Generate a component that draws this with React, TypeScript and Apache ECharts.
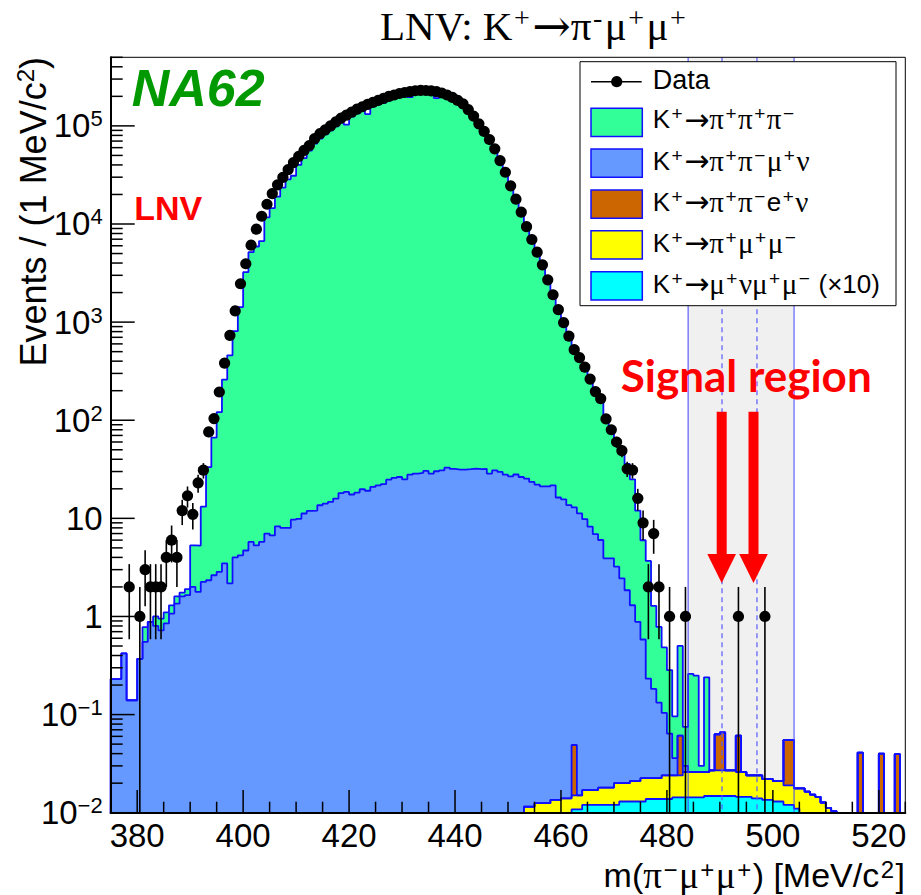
import React, { useEffect, useRef } from 'react';
import * as echarts from 'echarts';

// Binning of the invariant mass m(pi- mu+ mu+): 1 MeV/c^2 bins from 375 to 525
const M_LOW = 375;
const M_HIGH = 525;
const BIN_WIDTH = 1;
const Y_MIN = 0.01;
const Y_MAX = 500000;
const FLOOR = 1e-4; // empty bins are sent below the visible range

// Observed events per bin (bins 375..524)
const DATA_COUNTS = [
  0, 0, 0, 2, 0, 1, 3, 2, 2, 2,
  4, 6, 4, 12, 17, 11, 23, 31, 76, 104,
  194, 382, 733, 1300, 2460, 3935, 6080, 8850, 12000, 15900,
  20400, 25100, 29900, 35900, 42300, 49000, 56200, 63100, 74100, 83200,
  91200, 100000, 109600, 120200, 128800, 138000, 147900, 156700, 166000, 173800,
  182000, 190500, 199500, 206500, 213800, 218800, 223900, 228000, 230100, 229500,
  227000, 223900, 216300, 206500, 195000, 182000, 167900, 146200, 125900, 105000,
  88000, 72600, 58400, 44300, 33700, 24500, 17900, 13200, 9400, 6950,
  5160, 3840, 2700, 1900, 1340, 986, 720, 524, 434, 348,
  263, 196, 166, 103, 80, 60, 49, 32, 31, 16,
  9, 2, 7, 2, 0, 1, 0, 0, 1, 0,
  0, 0, 0, 0, 0, 0, 0, 0, 1, 0,
  0, 0, 0, 1, 0, 0, 0, 0, 0, 0,
  0, 0, 0, 0, 0, 0, 0, 0, 0, 0,
  0, 0, 0, 0, 0, 0, 0, 0, 0, 0,
];

// K+ -> pi+ pi+ pi- (bins 375..524)
const K3PI = [
  0, 0, 0, 0, 0, 0, 0.23, 0, 0.2, 0.23,
  0.25, 0.23, 0.25, 0.15, 0.25, 3.3, 3.5, 10.9, 31, 64,
  118, 256, 456, 805, 1418, 3225, 5154, 5895, 6694, 11690,
  14500, 19000, 23500, 28500, 31000, 40000, 47000, 56000, 66000, 74000,
  82000, 90000, 99000, 108000, 103000, 124000, 134000, 142000, 132000, 158000,
  166000, 172000, 182000, 190000, 197000, 203000, 196000, 212000, 216000, 217000,
  215000, 192000, 206000, 198000, 188000, 176000, 163000, 143000, 124000, 104000,
  88000, 74000, 60000, 46000, 35000, 25500, 18500, 13500, 9800, 7100,
  5300, 3900, 2750, 1950, 1400, 1000, 730, 540, 420, 340,
  252, 193, 154, 106, 78, 58.8, 42.6, 34, 23.7, 11.1,
  5.4, 3.45, 1.1, 0.65, 0.38, 0.22, 0.06, 0.44, 0.045, 0.234,
  0.224, 0.004, 0.214, 0, 0, 0, 0, 0, 0, 0,
  0, 0, 0, 0, 0, 0, 0, 0, 0, 0,
  0, 0, 0, 0, 0, 0, 0, 0, 0, 0,
  0, 0, 0, 0, 0, 0, 0, 0, 0, 0,
];

// K+ -> pi+ pi- mu+ nu (bins 375..524)
const K_PIPIMUNU = [
  0.23, 0.23, 0.42, 0.14, 0.14, 0.37, 0.55, 0.88, 0.8, 0.72,
  0.85, 1.07, 1.35, 1.6, 1.65, 2.0, 1.78, 2.25, 2.34, 2.63,
  2.85, 3.47, 2.17, 4.0, 4.2, 4.7, 5.75, 5.3, 5.75, 7.0,
  6.7, 8.3, 8.0, 8.0, 9.7, 9.9, 11.2, 11.9, 12.0, 13.6,
  14.1, 14.7, 15.9, 18.1, 18.6, 17.5, 18.3, 19.8, 19.1, 20.9,
  21.7, 22.3, 24.8, 25.8, 26.4, 25.0, 27.9, 28.6, 29.0, 30.4,
  28.6, 30.2, 30.9, 32.9, 31.9, 31.4, 31.4, 31.7, 32.1, 31.7,
  32.0, 28.6, 30.9, 29.7, 27.9, 26.8, 28.0, 26.4, 25.4, 23.5,
  22.1, 21.2, 21.2, 21.7, 16.3, 15.6, 13.6, 12.9, 11.2, 9.8,
  8.2, 6.9, 6.0, 3.9, 3.9, 3.2, 2.42, 1.83, 1.28, 0.86,
  0.56, 0.21, 0.16, 0.11, 0.08, 0.04, 0.012, 0, 0.004, 0,
  0, 0, 0, 0, 0, 0, 0, 0, 0, 0,
  0, 0, 0, 0, 0, 0, 0, 0, 0, 0,
  0, 0, 0, 0, 0, 0, 0, 0, 0, 0,
  0, 0, 0, 0, 0, 0, 0, 0, 0, 0,
];

// K+ -> pi+ pi- e+ nu: [bin lower edge, events]
const K_PIPIENU: [number, number][] = [
  [462, 0.034], [482, 0.037], [489, 0.036], [490, 0.039], [493, 0.035],
  [502, 0.036], [503, 0.036], [516, 0.041], [520, 0.040], [523, 0.0395],
];

// K+ -> pi+ mu+ mu-, bins starting at 453
const K_PIMUMU_START = 453;
const K_PIMUMU = [
  0.0115, 0.0115, 0.0125, 0.0125, 0.0125, 0.0135, 0.0135, 0.014, 0.014, 0.0042,
  0.0042, 0.005, 0.005, 0.005, 0.006, 0.006, 0.006, 0.008, 0.007, 0.007,
  0.008, 0.008, 0.0095, 0.0087, 0.0087, 0.0087, 0.0102, 0.0102, 0.0097, 0.0097,
  0.0117, 0.0117, 0.0117, 0.0117, 0.0112, 0.0122, 0.0122, 0.0122, 0.0122, 0.0122,
  0.0115, 0.0115, 0.0095, 0.010, 0.010, 0.0085, 0.0085, 0.008, 0.008, 0.007,
  0.007, 0.0067, 0.0177, 0.0164, 0.0153, 0.0145, 0.0127, 0.0112, 0.0104,
];

// K+ -> mu+ nu mu+ mu- (scaled x10), bins starting at 462
const K_MUNUMUMU_START = 462;
const K_MUNUMUMU_X10 = [
  0.0108, 0.0108, 0.012, 0.012, 0.012, 0.012, 0.012, 0.012, 0.012, 0.013,
  0.013, 0.013, 0.013, 0.013, 0.0138, 0.0138, 0.0138, 0.0138, 0.0138, 0.0143,
  0.0143, 0.0143, 0.0143, 0.0143, 0.0143, 0.0148, 0.0148, 0.0148, 0.0148, 0.0148,
  0.0148, 0.0145, 0.0145, 0.0145, 0.014, 0.014, 0.0135, 0.0135, 0.013, 0.013,
  0.012, 0.012, 0.011,
];

// Signal region window and mass-resolution markers
const SIGNAL_REGION = [484, 504];
const SIGNAL_MARKERS = [490.4, 497.0];

// Axis tick positions
const X_LABELS = [380, 400, 420, 440, 460, 480, 500, 520];
const X_TICK_STEP = 5;
const Y_DECADES = [-2, -1, 0, 1, 2, 3, 4, 5];

const OUTLINE = '#1010ff';
const SANS = 'Liberation Sans';
const SERIF = 'Liberation Serif';

const N_BINS = DATA_COUNTS.length;

function fromRange(start: number, vals: number[]): number[] {
  const out = new Array(N_BINS).fill(0);
  vals.forEach((v, i) => { out[start - M_LOW + i] = v; });
  return out;
}
function fromPairs(pairs: [number, number][]): number[] {
  const out = new Array(N_BINS).fill(0);
  pairs.forEach(([m, v]) => { out[m - M_LOW] = v; });
  return out;
}

// Stack order, bottom to top
const LAYERS = [
  { name: 'K^+→μ^+νμ^+μ^- (×10)', vals: fromRange(K_MUNUMUMU_START, K_MUNUMUMU_X10), color: '#00ffff' },
  { name: 'K^+→π^+μ^+μ^-', vals: fromRange(K_PIMUMU_START, K_PIMUMU), color: '#ffff00' },
  { name: 'K^+→π^+π^-e^+ν', vals: fromPairs(K_PIPIENU), color: '#cc6600' },
  { name: 'K^+→π^+π^-μ^+ν', vals: K_PIPIMUNU, color: '#6699ff' },
  { name: 'K^+→π^+π^+π^-', vals: K3PI, color: '#33ff99' },
];

function cumulative(): number[][] {
  const out: number[][] = [];
  let run = new Array(N_BINS).fill(0);
  LAYERS.forEach((l) => {
    run = run.map((v, i) => v + l.vals[i]);
    out.push(run.slice());
  });
  return out;
}

function stepPoints(vals: number[]): number[][] {
  const pts: number[][] = [[M_LOW, FLOOR]];
  vals.forEach((v, i) => {
    const y = v > 0 ? v : FLOOR;
    const lo = M_LOW + i * BIN_WIDTH;
    pts.push([lo, y], [lo + BIN_WIDTH, y]);
  });
  pts.push([M_HIGH, FLOOR]);
  return pts;
}

// Tiny markup: "^x" makes x a superscript, Greek letters and the arrow get their own faces
type Faces = { base: string; sup: string; greek: string; arrow: string };
function rich(src: string, f: Faces, minus = '−'): string {
  let out = '';
  let buf = '';
  let cur = '';
  const push = (ch: string, st: string) => {
    if (st !== cur) {
      if (buf) out += `{${cur}|${buf}}`;
      buf = '';
      cur = st;
    }
    buf += ch;
  };
  for (let i = 0; i < src.length; i++) {
    let ch = src[i];
    if (ch === '^') {
      ch = src[++i];
      if (ch === '-') ch = minus;
      // each superscript is its own token so it gets its own side padding
      if (buf) out += `{${cur}|${buf}}`;
      buf = '';
      cur = '';
      out += `{${f.sup}|${ch}}`;
    } else if ('πμν'.includes(ch)) {
      push(ch, f.greek);
    } else if (ch === '→') {
      push(ch, f.arrow);
    } else {
      push(ch, f.base);
    }
  }
  if (buf) out += `{${cur}|${buf}}`;
  return out;
}

const LEGEND_FACES: Faces = { base: 't', sup: 's', greek: 'g', arrow: 'r' };

function buildOption() {
  const cum = cumulative();
  const histSeries = LAYERS.map((l, idx) => ({
    type: 'line',
    name: l.name,
    data: stepPoints(cum[idx]),
    symbol: 'none',
    showSymbol: false,
    silent: true,
    clip: true,
    z: 2,
    lineStyle: { color: OUTLINE, width: 1.8 },
    areaStyle: { color: l.color, opacity: 1, origin: FLOOR },
  })).reverse();

  const dataPoints: number[][] = [];
  DATA_COUNTS.forEach((n, i) => {
    if (n <= 0) return;
    const s = Math.sqrt(n);
    dataPoints.push([M_LOW + (i + 0.5) * BIN_WIDTH, n, n - s, n + s]);
  });

  // tick items: [x, y, kind]; kind 0 x-major, 1 x-minor, 2 y-major, 3 y-minor
  const ticks: number[][] = [];
  for (let m = M_LOW; m <= M_HIGH; m += X_TICK_STEP) {
    ticks.push([m, Y_MIN, X_LABELS.includes(m) ? 0 : 1]);
  }
  Y_DECADES.forEach((d) => {
    for (let j = 1; j <= 9; j++) {
      const v = j * Math.pow(10, d);
      if (v <= Y_MAX * 1.0001) ticks.push([M_LOW, v, j === 1 ? 2 : 3]);
    }
  });

  const legendRows = LAYERS.slice().reverse();
  const swatchTop = [108.3, 149, 190, 230.7, 271.7];
  const textMid = [119.2, 160.8, 201.5, 242.5, 283.7];

  const legendRich = {
    t: { fontFamily: SANS, fontSize: 26, lineHeight: 30, fill: '#000' },
    g: { fontFamily: SERIF, fontSize: 29, lineHeight: 30, fill: '#000' },
    r: { fontFamily: 'DejaVu Sans', fontSize: 30, lineHeight: 30, fill: '#000' },
    s: { fontFamily: SANS, fontSize: 19, lineHeight: 12, verticalAlign: 'top', padding: [0, 1.5, 0, 1.5], fill: '#000' },
  };

  const graphic: any[] = [
    // plot frame
    {
      type: 'rect', z: 60, silent: true,
      shape: { x: 110.7, y: 57.3, width: 794.6, height: 755.4 },
      style: { fill: 'none', stroke: '#000', lineWidth: 1 },
    },
    // legend box
    {
      type: 'rect', z: 100,
      shape: { x: 580, y: 61.7, width: 316, height: 244 },
      style: { fill: '#fff', stroke: '#000', lineWidth: 1 },
    },
    {
      type: 'line', z: 101,
      shape: { x1: 591, y1: 81.7, x2: 641.7, y2: 81.7 },
      style: { stroke: '#000', lineWidth: 1.6 },
    },
    { type: 'circle', z: 102, shape: { cx: 616.7, cy: 81.7, r: 5.6 }, style: { fill: '#000' } },
    {
      type: 'text', z: 102, x: 652.7, y: 80,
      style: { text: 'Data', fontFamily: SANS, fontSize: 27, fill: '#000', verticalAlign: 'middle' },
    },
    ...legendRows.flatMap((l, i) => [
      {
        type: 'rect', z: 101,
        shape: { x: 591, y: swatchTop[i], width: 51.3, height: 28.3 },
        style: { fill: l.color, stroke: OUTLINE, lineWidth: 1.5 },
      },
      {
        type: 'text', z: 102, x: 652.7, y: textMid[i],
        style: { text: rich(l.name, LEGEND_FACES), rich: legendRich, verticalAlign: 'middle', fill: '#000' },
      },
    ]),
    // title
    {
      type: 'text', z: 100, x: 380, y: 25.8,
      style: {
        text: rich('LNV: K^+→π^-μ^+μ^+', { base: 'T', sup: 'U', greek: 'T', arrow: 'R' }, '-'),
        verticalAlign: 'middle',
        rich: {
          T: { fontFamily: SERIF, fontSize: 41, lineHeight: 44, fill: '#000' },
          R: { fontFamily: 'DejaVu Serif', fontSize: 46, lineHeight: 44, fill: '#000' },
          U: { fontFamily: SERIF, fontSize: 28, lineHeight: 24, verticalAlign: 'top', padding: [0, 2.5, 0, 1.5], fill: '#000' },
        },
      },
    },
    // experiment tag
    {
      type: 'text', z: 100, x: 131.7, y: 88,
      style: { text: 'NA62', fontFamily: SANS, fontSize: 52, fontWeight: 'bold', fontStyle: 'italic', fill: '#009a00', verticalAlign: 'middle' },
    },
    {
      type: 'text', z: 100, x: 134.3, y: 208.2,
      style: { text: 'LNV', fontFamily: SANS, fontSize: 34, fontWeight: 'bold', fill: '#ff0000', verticalAlign: 'middle' },
    },
    // signal region annotation
    {
      type: 'text', z: 100, x: 620.7, y: 374.7,
      style: { text: 'Signal region', fontFamily: 'Lato', fontSize: 44, fontWeight: 'bold', fill: '#ff0000', verticalAlign: 'middle' },
    },
    { type: 'rect', z: 100, shape: { x: 716.7, y: 411.7, width: 10, height: 144 }, style: { fill: '#ff0000' } },
    { type: 'polygon', z: 100, shape: { points: [[707.3, 554], [736, 554], [721.7, 583]] }, style: { fill: '#ff0000' } },
    { type: 'rect', z: 100, shape: { x: 748.5, y: 411.7, width: 10, height: 144 }, style: { fill: '#ff0000' } },
    { type: 'polygon', z: 100, shape: { points: [[739.2, 554], [767.8, 554], [753.5, 583]] }, style: { fill: '#ff0000' } },
    // axis titles
    {
      type: 'text', z: 100, x: 905, y: 875,
      style: {
        text: rich('m(π^-μ^+μ^+) [MeV/c^2]', { base: 'a', sup: 'b', greek: 'c', arrow: 'a' }),
        align: 'right', verticalAlign: 'middle',
        rich: {
          a: { fontFamily: SANS, fontSize: 34, lineHeight: 36, fill: '#000' },
          c: { fontFamily: SERIF, fontSize: 37, lineHeight: 36, fill: '#000' },
          b: { fontFamily: SANS, fontSize: 24, lineHeight: 12, verticalAlign: 'top', padding: [0, 1.5, 0, 1.5], fill: '#000' },
        },
      },
    },
    {
      type: 'text', z: 100, x: 33, y: 57, rotation: Math.PI / 2,
      style: {
        text: rich('Events / (1 MeV/c^2)', { base: 'a', sup: 'b', greek: 'a', arrow: 'a' }),
        align: 'right', verticalAlign: 'middle',
        rich: {
          a: { fontFamily: SANS, fontSize: 36, lineHeight: 40, fill: '#000' },
          b: { fontFamily: SANS, fontSize: 24, lineHeight: 14, verticalAlign: 'top', fill: '#000' },
        },
      },
    },
  ];

  return {
    animation: false,
    backgroundColor: '#fff',
    grid: { left: 110.7, top: 57.3, width: 794.6, height: 755.4, containLabel: false },
    xAxis: {
      type: 'value', min: M_LOW, max: M_HIGH, interval: X_TICK_STEP, z: 10,
      axisLine: { show: true, lineStyle: { color: '#000', width: 2 } },
      axisTick: { show: false },
      splitLine: { show: false },
      axisLabel: {
        margin: 6, fontFamily: SANS, fontSize: 33, color: '#000',
        formatter: (v: number) => (X_LABELS.includes(Math.round(v)) ? String(Math.round(v)) : ''),
      },
    },
    yAxis: {
      type: 'log', logBase: 10, min: Y_MIN, max: Y_MAX, z: 10,
      axisLine: { show: true, lineStyle: { color: '#000', width: 2 } },
      axisTick: { show: false },
      splitLine: { show: false },
      axisLabel: {
        margin: 8, fontFamily: SANS, fontSize: 33, color: '#000',
        formatter: (v: number) => {
          const l = Math.log10(v);
          const e = Math.round(l);
          if (Math.abs(l - e) > 1e-6 || !Y_DECADES.includes(e)) return '';
          if (e === 0) return '1';
          if (e === 1) return '10';
          return `{b|10}{s|${e < 0 ? '−' + -e : e}}`;
        },
        rich: {
          b: { fontFamily: SANS, fontSize: 33, lineHeight: 36, color: '#000' },
          s: { fontFamily: SANS, fontSize: 22, lineHeight: 10, verticalAlign: 'top', color: '#000' },
        },
      },
    },
    series: [
      {
        type: 'custom', name: 'Signal region', z: 1, silent: true, clip: true,
        data: [SIGNAL_REGION],
        encode: { x: [0, 1] },
        renderItem: (params: any, api: any) => {
          const a = api.coord([api.value(0), Y_MAX]);
          const b = api.coord([api.value(1), Y_MIN]);
          return {
            type: 'rect',
            shape: { x: a[0], y: a[1], width: b[0] - a[0], height: b[1] - a[1] },
            style: { fill: '#f0f0f0' },
          };
        },
      },
      ...histSeries,
      {
        type: 'custom', name: 'Window edges', z: 3, silent: true, clip: true,
        data: SIGNAL_REGION.map((m) => [m]),
        encode: { x: 0 },
        renderItem: (params: any, api: any) => {
          const a = api.coord([api.value(0), Y_MAX]);
          const b = api.coord([api.value(0), Y_MIN]);
          return { type: 'line', shape: { x1: a[0], y1: a[1], x2: b[0], y2: b[1] }, style: { stroke: '#4040ff', lineWidth: 1 } };
        },
      },
      {
        type: 'custom', name: 'Signal markers', z: 3, silent: true, clip: true,
        data: SIGNAL_MARKERS.map((m) => [m]),
        encode: { x: 0 },
        renderItem: (params: any, api: any) => {
          const a = api.coord([api.value(0), Y_MAX]);
          const b = api.coord([api.value(0), Y_MIN]);
          return { type: 'line', shape: { x1: a[0], y1: a[1], x2: b[0], y2: b[1] }, style: { stroke: '#5a5aff', lineWidth: 1.2, lineDash: [5, 4] } };
        },
      },
      {
        type: 'custom', name: 'Ticks', z: 4, silent: true, clip: false,
        data: ticks,
        encode: { x: 0, y: 1 },
        renderItem: (params: any, api: any) => {
          const p = api.coord([api.value(0), api.value(1)]);
          const kind = api.value(2);
          if (kind <= 1) {
            const len = kind === 0 ? 22.7 : 11;
            return { type: 'line', shape: { x1: p[0], y1: p[1], x2: p[0], y2: p[1] - len }, style: { stroke: '#000', lineWidth: 1.5 } };
          }
          const len = kind === 2 ? 24 : 12;
          return { type: 'line', shape: { x1: p[0], y1: p[1], x2: p[0] + len, y2: p[1] }, style: { stroke: '#000', lineWidth: 1.5 } };
        },
      },
      {
        type: 'custom', name: 'Data', z: 5, silent: true, clip: true,
        data: dataPoints,
        encode: { x: 0, y: 1 },
        renderItem: (params: any, api: any) => {
          const x = api.value(0);
          const v = api.value(1);
          const lo = api.value(2);
          const hi = api.value(3);
          const c = api.coord([x, v]);
          const top = api.coord([x, hi])[1];
          const cs = params.coordSys;
          const bottom = lo > 0 ? api.coord([x, lo])[1] : cs.y + cs.height;
          return {
            type: 'group',
            children: [
              { type: 'line', shape: { x1: c[0], y1: top, x2: c[0], y2: bottom }, style: { stroke: '#000', lineWidth: 1.6 } },
              { type: 'circle', shape: { cx: c[0], cy: c[1], r: 5.6 }, style: { fill: '#000' } },
            ],
          };
        },
      },
    ],
    graphic,
  };
}

export default function App() {
  const ref = useRef<HTMLDivElement>(null);
  useEffect(() => {
    if (!ref.current) return;
    const chart = echarts.init(ref.current, undefined, { renderer: 'svg' });
    chart.setOption(buildOption() as any);
    return () => chart.dispose();
  }, []);
  return (
    <div
      ref={ref}
      style={{ position: 'fixed', left: 0, top: 0, width: 921, height: 895, background: '#fff' }}
    />
  );
}
